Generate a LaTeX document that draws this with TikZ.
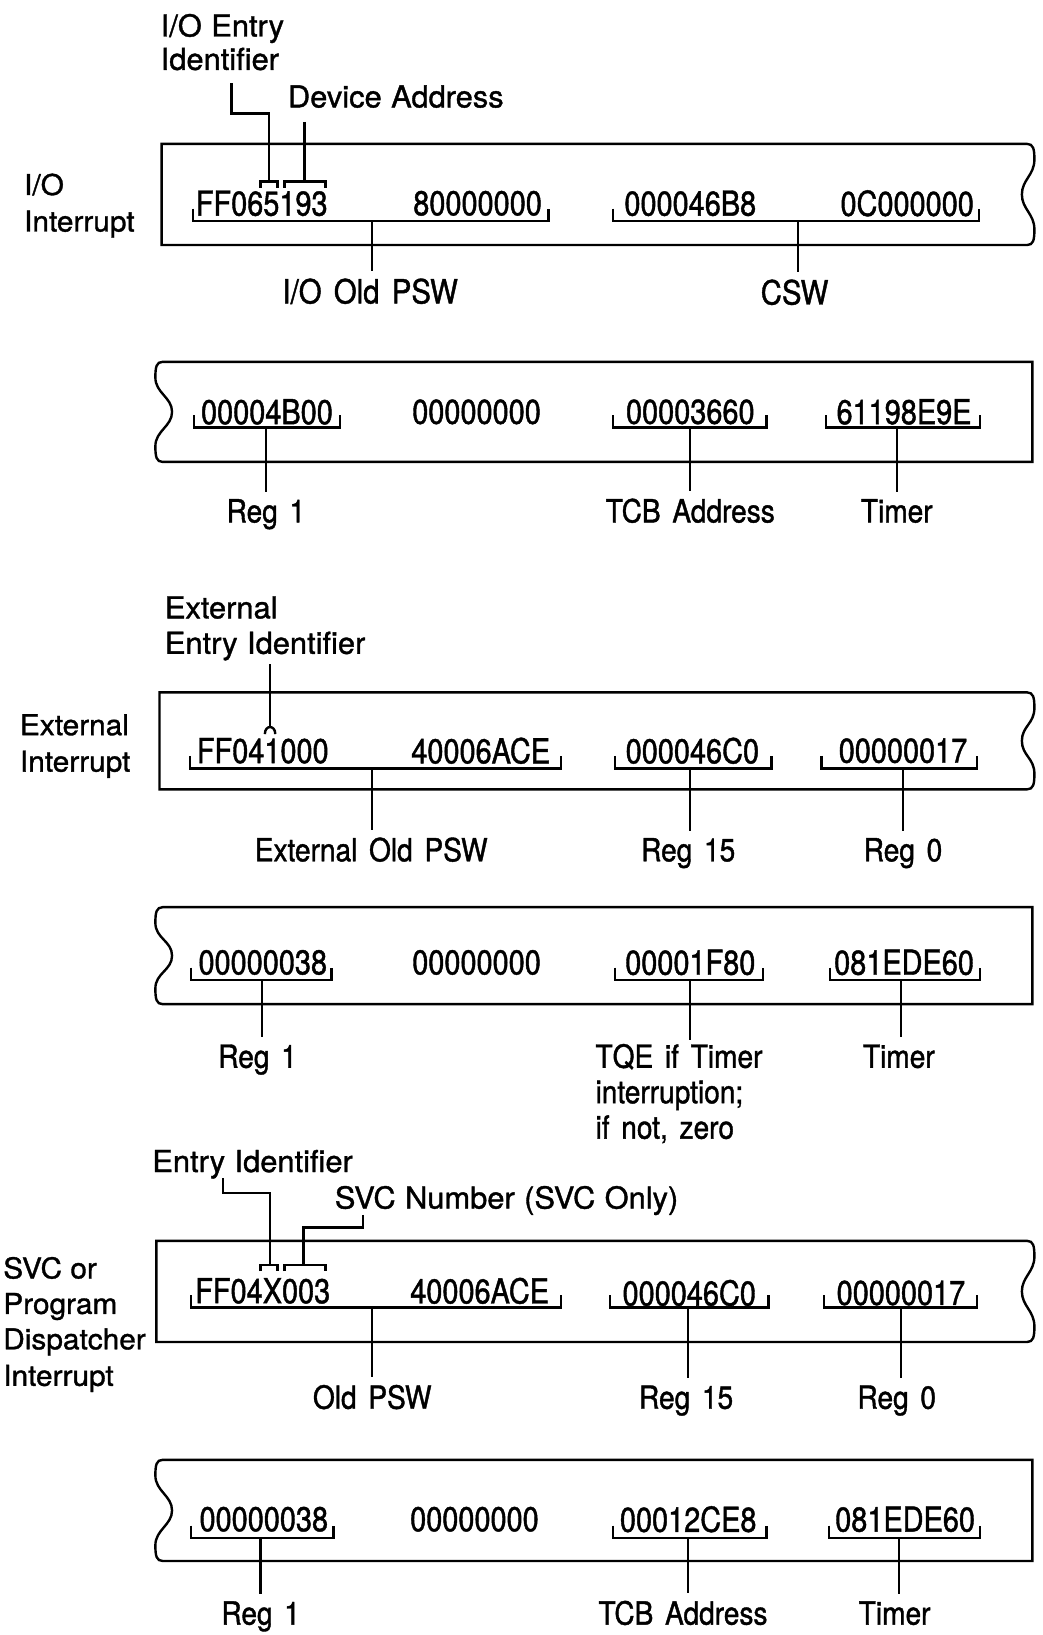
\documentclass[tikz,border=0pt]{standalone}
\usepackage{fontspec}
\setmainfont[FakeBold=1.2]{TeX Gyre Heros}
\newfontfamily\hexfont[FakeStretch=0.84,FakeBold=1.2]{TeX Gyre Heros}
\newfontfamily\lblfont[FakeStretch=0.88,FakeBold=1.2,WordSpace=1.5]{TeX Gyre Heros}
\newfontfamily\topfont[FakeStretch=1.02,FakeBold=1.2,WordSpace=1.1]{TeX Gyre Heros}
\newfontfamily\sidefont[FakeStretch=1.04,FakeBold=1.2]{TeX Gyre Heros}
\newcommand\tornright[4]{%
\draw (#4,#2) -- (#1,#2) -- (#1,#3) -- (#4,#3)
 .. controls (#4+6,#3) and (#4+7,#3-5) .. (#4+7,#3-15)
 .. controls (#4+7,#3-30) and (#4-5,{(#2+#3)/2+14}) .. (#4-5,{(#2+#3)/2})
 .. controls (#4-5,{(#2+#3)/2-14}) and (#4+7,#2+30) .. (#4+7,#2+15)
 .. controls (#4+7,#2+5) and (#4+6,#2) .. cycle;}
\newcommand\tornleft[4]{%
\draw (#1,#2) -- (#4,#2) -- (#4,#3) -- (#1,#3)
 .. controls (#1-6,#3) and (#1-7,#3-5) .. (#1-7,#3-15)
 .. controls (#1-7,#3-30) and (#1+9,{(#2+#3)/2+14}) .. (#1+9,{(#2+#3)/2})
 .. controls (#1+9,{(#2+#3)/2-14}) and (#1-7,#2+30) .. (#1-7,#2+15)
 .. controls (#1-7,#2+5) and (#1-6,#2) .. cycle;}
\newcommand\ubrk[3]{\draw (#1,#3-12) -- (#1,#3) -- (#2,#3) -- (#2,#3-12);}
\newcommand\dbrk[3]{\draw (#1,#3+6) -- (#1,#3) -- (#2,#3) -- (#2,#3+6);}
\begin{document}
\begin{tikzpicture}[x=1pt,y=-1pt,line width=2.3pt,
  hex/.style={font=\hexfont\fontsize{33}{36}\selectfont, inner sep=0pt},
  lbl/.style={font=\lblfont\fontsize{30.6}{34}\selectfont, inner sep=0pt, anchor=base},
  toplbl/.style={font=\topfont\fontsize{29}{32}\selectfont, inner sep=0pt, anchor=base west},
  side/.style={font=\sidefont\fontsize{27.5}{30}\selectfont, inner sep=0pt, anchor=base west}]
\useasboundingbox (0,0) rectangle (1000,1568);

% ===== I/O Interrupt =====
\node[side] (s1a) at (22,187) {I/O};
\node[side] (s1b) at (22,222) {Interrupt};
\node[toplbl] (t1a) at (153,35) {I/O Entry};
\node[toplbl] (t1b) at (153,67) {Identifier};
\node[toplbl] (t1c) at (275,103) {Device Address};
\tornright{155}{138}{235}{985}
\node[hex] (h11) at (251,195) {FF065193};
\node[hex] (h12) at (458,195) {80000000};
\node[hex] (h13) at (662,195) {000046B8};
\node[hex] (h14) at (870,195) {0C000000};
\ubrk{185}{526}{212}
\ubrk{588}{939}{212}
\node[lbl,font=\lblfont\fontsize{32}{34}\selectfont] (l11) at (355,291) {I/O Old PSW};
\node[lbl,font=\lblfont\fontsize{32}{34}\selectfont] (l12) at (762,292) {CSW};
\draw (357,212) -- ([yshift=6pt]l11.north -| 357,0);
\draw (765,212) -- ([yshift=6pt]l12.north -| 765,0);
\coordinate (e1) at (222,80);
\coordinate (e1b) at (258,174);
\draw (e1) |- (258,109) -- (e1b);
\dbrk{250}{266}{174}
\coordinate (d1) at (292,117);
\coordinate (d1b) at (292,174);
\draw (d1) -- (d1b);
\dbrk{273}{312}{174}

\tornleft{156}{347}{443}{990}
\node[hex] (h21) at (256,395) {00004B00};
\node[hex] (h22) at (457,395) {00000000};
\node[hex] (h23) at (662,395) {00003660};
\node[hex] (h24) at (867,395) {61198E9E};
\ubrk{186}{326}{410}
\ubrk{588}{735}{410}
\ubrk{792}{940}{410}
\node[lbl] (l21) at (255,501) {Reg 1};
\node[lbl] (l22) at (662,501) {TCB Address};
\node[lbl] (l23) at (860,501) {Timer};
\draw (255,410) -- ([yshift=6pt]l21.north);
\draw (662,410) -- ([yshift=6pt]l22.north);
\draw (860,410) -- ([yshift=6pt]l23.north);

% ===== External Interrupt =====
\node[toplbl] (t3a) at (157,593) {External};
\node[toplbl] (t3b) at (157,627) {Entry Identifier};
\node[side] (s3a) at (18,705) {External};
\node[side] (s3b) at (18,740) {Interrupt};
\tornright{153}{664}{757}{985}
\node[hex] (h31) at (252,720) {FF041000};
\node[hex] (h32) at (461,720) {40006ACE};
\node[hex] (h33) at (664,720) {000046C0};
\node[hex] (h34) at (866,720) {00000017};
\coordinate (e3) at (259,637);
\coordinate (e3b) at (259,697);
\draw (e3) -- (e3b);
\draw (254,704) .. controls (254,695) and (264,695) .. (264,704);
\ubrk{182}{538}{737}
\ubrk{590}{740}{737}
\ubrk{788}{937}{737}
\node[lbl] (l31) at (356,826) {External Old PSW};
\node[lbl] (l32) at (660,826) {Reg 15};
\node[lbl] (l33) at (866,826) {Reg 0};
\draw (357,737) -- ([yshift=6pt]l31.north -| 357,0);
\draw (662,737) -- ([yshift=6pt]l32.north -| 662,0);
\draw (866,737) -- ([yshift=6pt]l33.north);

\tornleft{156}{870}{963}{990}
\node[hex] (h41) at (252,923) {00000038};
\node[hex] (h42) at (457,923) {00000000};
\node[hex] (h43) at (662,923) {00001F80};
\node[hex] (h44) at (867,923) {081EDE60};
\ubrk{183}{318}{940}
\ubrk{590}{732}{940}
\ubrk{796}{940}{940}
\node[lbl] (l41) at (247,1024) {Reg 1};
\node[lbl,anchor=base west] (l42) at (570,1024) {TQE if Timer};
\node[lbl,anchor=base west] (l42b) at (570,1058) {interruption;};
\node[lbl,anchor=base west] (l42c) at (570,1092) {if not, zero};
\node[lbl] (l43) at (862,1024) {Timer};
\draw (251,940) -- ([yshift=6pt]l41.north -| 251,0);
\draw (662,940) -- (662,997);
\draw (864,940) -- ([yshift=6pt]l43.north -| 864,0);

% ===== SVC / Program =====
\node[toplbl] (t5a) at (145,1124) {Entry Identifier};
\node[toplbl] (t5b) at (320,1159) {SVC Number (SVC Only)};
\node[side] (s5a) at (2,1226) {SVC or};
\node[side] (s5b) at (2,1260) {Program};
\node[side] (s5c) at (2,1294) {Dispatcher};
\node[side] (s5d) at (2,1329) {Interrupt};
\tornright{150}{1190}{1287}{985}
\node[hex] (h51) at (252,1238) {FF04X003};
\node[hex] (h52) at (460,1238) {40006ACE};
\node[hex] (h53) at (661,1240) {000046C0};
\node[hex] (h54) at (864,1240) {00000017};
\coordinate (e5) at (214,1130);
\draw (e5) |- (259,1144) -- (259,1213);
\dbrk{250}{266}{1213}
\coordinate (v5) at (348,1165);
\draw (v5) -- (348,1177) -| (291,1213);
\dbrk{273}{312}{1213}
\ubrk{183}{538}{1254}
\ubrk{585}{737}{1254}
\ubrk{790}{937}{1254}
\node[lbl] (l51) at (357,1351) {Old PSW};
\node[lbl] (l52) at (658,1351) {Reg 15};
\node[lbl] (l53) at (860,1351) {Reg 0};
\draw (357,1254) -- ([yshift=6pt]l51.north -| 357,0);
\draw (660,1254) -- ([yshift=6pt]l52.north -| 660,0);
\draw (864,1254) -- ([yshift=6pt]l53.north -| 864,0);

\tornleft{156}{1400}{1497}{990}
\node[hex] (h61) at (253,1457) {00000038};
\node[hex] (h62) at (455,1457) {00000000};
\node[hex] (h63) at (660,1457) {00012CE8};
\node[hex] (h64) at (868,1457) {081EDE60};
\ubrk{183}{320}{1475}
\ubrk{588}{735}{1475}
\ubrk{795}{940}{1475}
\node[lbl] (l61) at (250,1558) {Reg 1};
\node[lbl] (l62) at (655,1558) {TCB Address};
\node[lbl] (l63) at (858,1558) {Timer};
\draw (250,1475) -- ([yshift=6pt]l61.north);
\draw (660,1475) -- ([yshift=6pt]l62.north -| 660,0);
\draw (862,1475) -- ([yshift=6pt]l63.north -| 862,0);
\end{tikzpicture}
\end{document}
